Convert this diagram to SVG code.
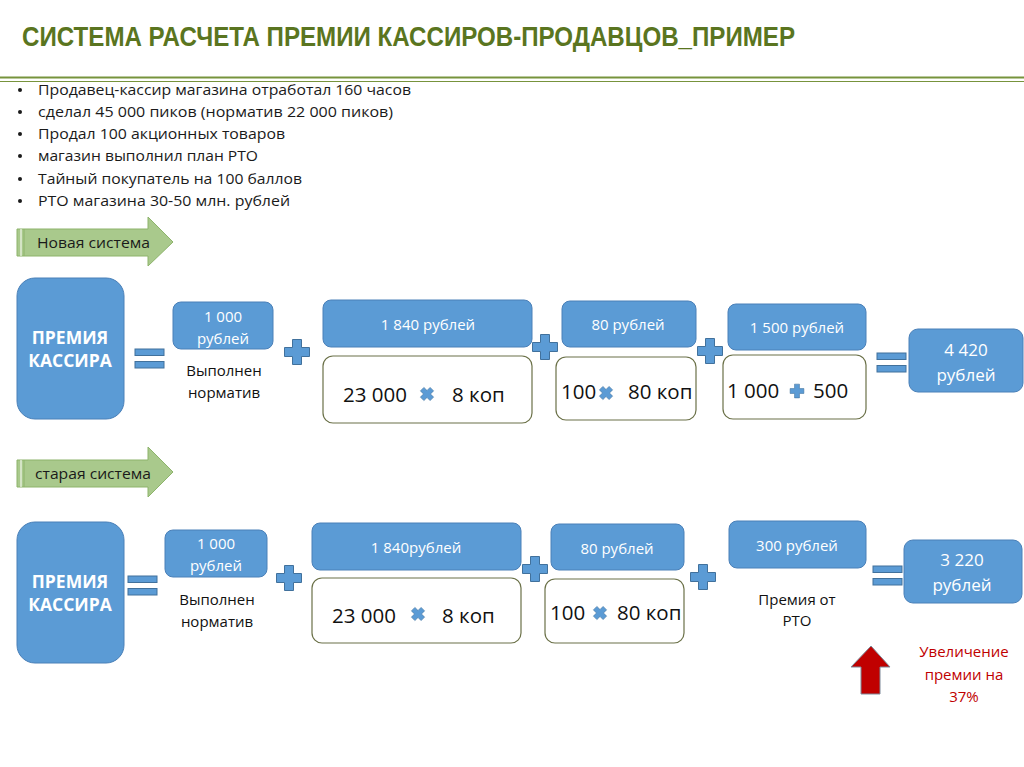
<svg xmlns="http://www.w3.org/2000/svg" width="1024" height="767" viewBox="0 0 1024 767">
<style>
  text { font-family: "Open Sans", "Liberation Sans", sans-serif; }
  .title { font-family: "Liberation Sans", sans-serif; font-weight: bold; font-size: 27px; fill: #5a7520; }
  .bul { font-size: 14.5px; fill: #1a1a1a; }
  .lbl { font-size: 15px; fill: #1a1a1a; }
  .blue { fill: #5b9bd5; stroke: #4a80b8; stroke-width: 1; }
  .white { fill: #ffffff; stroke: #6b7148; stroke-width: 1.2; }
  .wt { fill: #ffffff; font-size: 15px; text-anchor: middle; }
  .wtb { fill: #ffffff; font-size: 17px; text-anchor: middle; }
  .head { fill: #ffffff; font-size: 17.5px; font-weight: bold; text-anchor: middle; }
  .blk { fill: #111111; font-size: 15px; text-anchor: middle; }
  .big { fill: #111111; font-size: 20.5px; }
  .op { fill: #5b9bd5; stroke: #41719c; stroke-width: 1; }
  .arrow { fill: #a9c98c; stroke: #8db36b; stroke-width: 1; }
  .red { fill: #c00000; font-size: 15px; text-anchor: middle; }
</style>
<defs>
  <path id="plus" d="M-4.5,-12.5 H4.5 V-4.5 H12.5 V4.5 H4.5 V12.5 H-4.5 V4.5 H-12.5 V-4.5 H-4.5 Z"/>
  <g id="eq">
    <rect x="0" y="0" width="29" height="6.5" class="op"/>
    <rect x="0" y="12.5" width="29" height="6.5" class="op"/>
  </g>
</defs>
<rect width="1024" height="767" fill="#ffffff"/>

<g id="title">
  <text class="title" x="22" y="46" textLength="773" lengthAdjust="spacingAndGlyphs">СИСТЕМА РАСЧЕТА ПРЕМИИ КАССИРОВ-ПРОДАВЦОВ_ПРИМЕР</text>
  <line x1="0" y1="77.5" x2="1024" y2="77.5" stroke="#77933c" stroke-width="2"/>
  <line x1="0" y1="81.5" x2="1024" y2="81.5" stroke="#77933c" stroke-width="1"/>
</g>

<g id="bullets">
  <g fill="#1a1a1a">
    <circle cx="20" cy="90" r="2"/><circle cx="20" cy="112" r="2"/><circle cx="20" cy="134" r="2"/>
    <circle cx="20" cy="156" r="2"/><circle cx="20" cy="179" r="2"/><circle cx="20" cy="201" r="2"/>
  </g>
  <text class="bul" x="38" y="95" textLength="373" lengthAdjust="spacingAndGlyphs">Продавец-кассир магазина отработал 160 часов</text>
  <text class="bul" x="38" y="117" textLength="355" lengthAdjust="spacingAndGlyphs">сделал 45 000 пиков (норматив 22 000 пиков)</text>
  <text class="bul" x="38" y="139" textLength="247" lengthAdjust="spacingAndGlyphs">Продал 100 акционных товаров</text>
  <text class="bul" x="38" y="161" textLength="220" lengthAdjust="spacingAndGlyphs">магазин выполнил план РТО</text>
  <text class="bul" x="38" y="184" textLength="264" lengthAdjust="spacingAndGlyphs">Тайный покупатель на 100 баллов</text>
  <text class="bul" x="38" y="206" textLength="252" lengthAdjust="spacingAndGlyphs">РТО магазина 30-50 млн. рублей</text>
</g>

<g id="arrow-new">
  <path class="arrow" d="M17,229 H148 V217 L173,242 L148,266 V256 H17 Z"/>
  <line x1="21" y1="229" x2="21" y2="256" stroke="#ffffff" stroke-width="1"/>
  <line x1="24" y1="229" x2="24" y2="256" stroke="#8db36b" stroke-width="1"/>
  <text class="lbl" x="37" y="248" textLength="113" lengthAdjust="spacingAndGlyphs">Новая система</text>
</g>

<g id="new-premium">
  <rect class="blue" x="17" y="278" width="107" height="141" rx="18"/>
  <text class="head" x="70" y="344">ПРЕМИЯ</text>
  <text class="head" x="70" y="367">КАССИРА</text>
</g>
<g id="new-norm">
  <rect class="blue" x="173" y="302" width="100" height="47" rx="8"/>
  <text class="wt" x="223" y="322">1 000</text>
  <text class="wt" x="223" y="344">рублей</text>
  <text class="blk" x="224" y="376">Выполнен</text>
  <text class="blk" x="224" y="398">норматив</text>
</g>
<g id="new-picks">
  <rect class="blue" x="323" y="300" width="209" height="47" rx="8"/>
  <text class="wt" x="428" y="330">1 840 рублей</text>
  <rect class="white" x="323" y="356" width="209" height="67" rx="10"/>
  <text class="big" x="343" y="402">23 000</text>
  <use href="#plus" class="op" transform="translate(427,394) rotate(45) scale(0.55)"/>
  <text class="big" x="452" y="402">8 коп</text>
</g>
<g id="new-promo">
  <rect class="blue" x="562" y="301" width="134" height="46" rx="8"/>
  <text class="wt" x="628" y="330">80 рублей</text>
  <rect class="white" x="556" y="357" width="140" height="63" rx="10"/>
  <text class="big" x="561" y="399">100</text>
  <use href="#plus" class="op" transform="translate(606,393) rotate(45) scale(0.55)"/>
  <text class="big" x="628" y="399">80 коп</text>
</g>
<g id="new-rto">
  <rect class="blue" x="728" y="304" width="138" height="46" rx="8"/>
  <text class="wt" x="797" y="333">1 500 рублей</text>
  <rect class="white" x="723" y="355" width="143" height="64" rx="10"/>
  <text class="big" x="727" y="398">1 000</text>
  <use href="#plus" class="op" transform="translate(797,391) scale(0.55)"/>
  <text class="big" x="813" y="398">500</text>
</g>
<g id="new-total">
  <rect class="blue" x="909" y="329" width="114" height="63" rx="9"/>
  <text class="wtb" x="966" y="356">4 420</text>
  <text class="wtb" x="966" y="381">рублей</text>
</g>

<g id="connectors">
  <use href="#eq" transform="translate(135,349)"/>
  <use href="#plus" class="op" transform="translate(297,352)"/>
  <use href="#plus" class="op" transform="translate(545,347)"/>
  <use href="#plus" class="op" transform="translate(710,351)"/>
  <use href="#eq" transform="translate(877,353)"/>
  <use href="#eq" transform="translate(128,576)"/>
  <use href="#plus" class="op" transform="translate(289,578)"/>
  <use href="#plus" class="op" transform="translate(535,569)"/>
  <use href="#plus" class="op" transform="translate(703,577)"/>
  <use href="#eq" transform="translate(873,566)"/>
</g>

<g id="arrow-old">
  <path class="arrow" d="M17,460 H148 V447 L173,472 L148,497 V487 H17 Z"/>
  <line x1="21" y1="460" x2="21" y2="487" stroke="#ffffff" stroke-width="1"/>
  <line x1="24" y1="460" x2="24" y2="487" stroke="#8db36b" stroke-width="1"/>
  <text class="lbl" x="35" y="479" textLength="116" lengthAdjust="spacingAndGlyphs">старая система</text>
</g>

<g id="old-premium">
  <rect class="blue" x="17" y="522" width="107" height="141" rx="18"/>
  <text class="head" x="70" y="588">ПРЕМИЯ</text>
  <text class="head" x="70" y="611">КАССИРА</text>
</g>
<g id="old-norm">
  <rect class="blue" x="165" y="530" width="102" height="47" rx="8"/>
  <text class="wt" x="216" y="549">1 000</text>
  <text class="wt" x="216" y="571">рублей</text>
  <text class="blk" x="217" y="605">Выполнен</text>
  <text class="blk" x="217" y="627">норматив</text>
</g>
<g id="old-picks">
  <rect class="blue" x="312" y="523" width="209" height="47" rx="8"/>
  <text class="wt" x="416" y="553">1 840рублей</text>
  <rect class="white" x="312" y="578" width="209" height="65" rx="10"/>
  <text class="big" x="332" y="623">23 000</text>
  <use href="#plus" class="op" transform="translate(418,614) rotate(45) scale(0.55)"/>
  <text class="big" x="442" y="623">8 коп</text>
</g>
<g id="old-promo">
  <rect class="blue" x="551" y="524" width="133" height="46" rx="8"/>
  <text class="wt" x="617" y="554">80 рублей</text>
  <rect class="white" x="545" y="579" width="139" height="64" rx="10"/>
  <text class="big" x="550" y="620">100</text>
  <use href="#plus" class="op" transform="translate(600,613) rotate(45) scale(0.55)"/>
  <text class="big" x="617" y="620">80 коп</text>
</g>
<g id="old-rto">
  <rect class="blue" x="729" y="521" width="137" height="47" rx="8"/>
  <text class="wt" x="797" y="551">300 рублей</text>
  <text class="blk" x="797" y="605">Премия от</text>
  <text class="blk" x="797" y="626">РТО</text>
</g>
<g id="old-total">
  <rect class="blue" x="904" y="540" width="118" height="63" rx="9"/>
  <text class="wtb" x="962" y="566">3 220</text>
  <text class="wtb" x="962" y="591">рублей</text>
</g>

<g id="increase">
  <path d="M871,646 L890,667 H880 V694 H861 V667 H851 Z" fill="#c00000" stroke="#7f8a99" stroke-width="1"/>
  <text class="red" x="964" y="657">Увеличение</text>
  <text class="red" x="964" y="680">премии на</text>
  <text class="red" x="964" y="702">37%</text>
</g>
</svg>
